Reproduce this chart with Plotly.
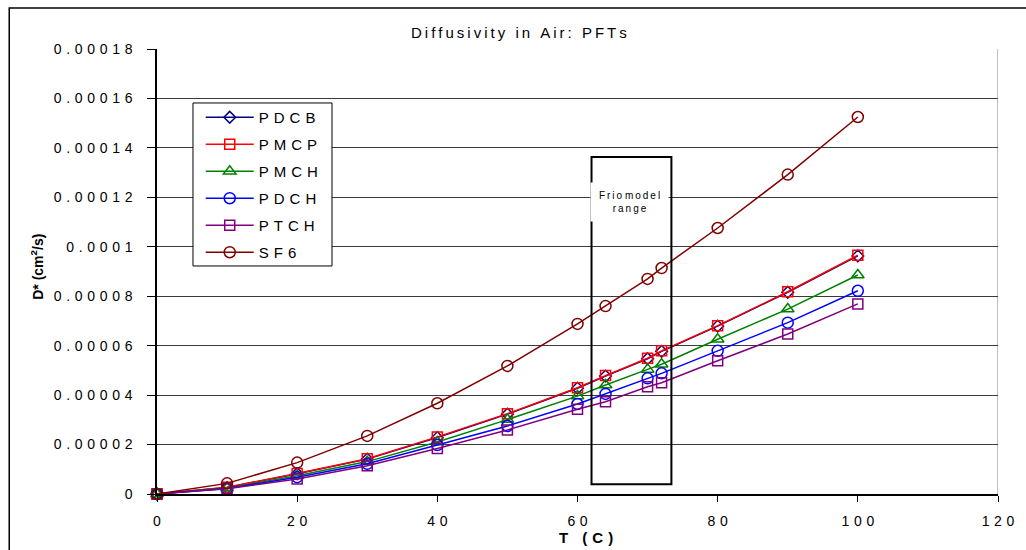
import plotly.graph_objects as go

# Temperature (C) at which the diffusivities are evaluated
temps = [0, 10, 20, 30, 40, 50, 60, 64, 70, 72, 80, 90, 100]

# Diffusion coefficients in air, cm^2/s
pdcb = [0, 2.6e-6, 8.2e-6, 1.41e-5, 2.28e-5, 3.23e-5, 4.28e-5, 4.77e-5, 5.47e-5, 5.77e-5, 6.79e-5, 8.16e-5, 9.63e-5]
pmcp = [0, 2.7e-6, 8.3e-6, 1.43e-5, 2.31e-5, 3.25e-5, 4.30e-5, 4.79e-5, 5.49e-5, 5.79e-5, 6.81e-5, 8.18e-5, 9.66e-5]
pmch = [0, 2.4e-6, 7.4e-6, 1.31e-5, 2.10e-5, 3.01e-5, 3.96e-5, 4.41e-5, 5.04e-5, 5.25e-5, 6.26e-5, 7.48e-5, 8.86e-5]
pdch = [0, 2.2e-6, 6.8e-6, 1.22e-5, 1.98e-5, 2.75e-5, 3.64e-5, 4.05e-5, 4.68e-5, 4.88e-5, 5.79e-5, 6.93e-5, 8.22e-5]
ptch = [0, 2.1e-6, 6.1e-6, 1.14e-5, 1.84e-5, 2.59e-5, 3.43e-5, 3.73e-5, 4.34e-5, 4.50e-5, 5.39e-5, 6.47e-5, 7.69e-5]
sf6 = [0, 4.3e-6, 1.27e-5, 2.35e-5, 3.67e-5, 5.18e-5, 6.88e-5, 7.60e-5, 8.70e-5, 9.14e-5, 1.076e-4, 1.292e-4, 1.525e-4]

series_names = ["PDCB", "PMCP", "PMCH", "PDCH", "PTCH", "SF6"]
series_values = [pdcb, pmcp, pmch, pdch, ptch, sf6]
series_colors = ["#000080", "#FF0000", "#008000", "#0000FF", "#800080", "#800000"]
series_symbols = ["diamond-open", "square-open", "triangle-up-open", "circle-open", "square-open", "circle-open"]
series_sizes = [9, 10, 11, 11, 10, 11]

y_ticks = [0, 2e-5, 4e-5, 6e-5, 8e-5, 1e-4, 1.2e-4, 1.4e-4, 1.6e-4, 1.8e-4]
y_tick_labels = ["0", "0.00002", "0.00004", "0.00006", "0.00008", "0.0001",
                 "0.00012", "0.00014", "0.00016", "0.00018"]
x_ticks = [0, 20, 40, 60, 80, 100, 120]
x_tick_labels = ["0", "20", "40", "60", "80", "100", "120"]

# Frio model temperature window and label
frio_range = [62.0, 73.4]

FONT = "Liberation Sans, Arial, sans-serif"
WIDE = "\u2004"   # three-per-em space used as letter spacing
THIN = "\u2009"   # thin space used as letter spacing


def spaced(text, gap):
    return gap.join(text)


fig = go.Figure()

for i, (name, vals, col, sym, sz) in enumerate(
        zip(series_names, series_values, series_colors, series_symbols, series_sizes)):
    fig.add_trace(go.Scatter(
        x=temps, y=vals, mode="lines+markers",
        name=spaced(name, WIDE), legendgroup=f"g{i}",
        line=dict(color=col, width=1.5),
        marker=dict(symbol=sym, size=sz, color=col, line=dict(color=col, width=1.5)),
        cliponaxis=False,
    ))

shapes = [
    # outer chart frame
    dict(type="rect", xref="paper", yref="paper", x0=-0.1757, x1=1.05, y0=-0.2, y1=1.0921,
         line=dict(color="black", width=1.5), fillcolor="rgba(0,0,0,0)", layer="below"),
    # right edge of the plot area
    dict(type="line", xref="x", yref="y", x0=120, x1=120, y0=0, y1=1.8e-4,
         line=dict(color="#808080", width=1), layer="below"),
    # Frio model range box
    dict(type="rect", xref="x", yref="y", x0=frio_range[0], x1=frio_range[1],
         y0=3.9e-6, y1=1.363e-4, line=dict(color="black", width=2),
         fillcolor="rgba(0,0,0,0)", layer="above"),
    # legend frame
    dict(type="rect", xref="paper", yref="paper", x0=0.0428, x1=0.2081, y0=0.5124, y1=0.8787,
         line=dict(color="black", width=1), fillcolor="white", layer="above"),
]

frio_text = spaced("Frio", THIN) + "\u00a0" + spaced("model", THIN) \
    + "<br>" + spaced("range", THIN)

annotations = [
    dict(text=spaced("Diffusivity in Air: PFTs", THIN), xref="paper", yref="paper",
         x=0.431, y=1.036, xanchor="center", yanchor="middle", showarrow=False,
         font=dict(family=FONT, size=15, color="black")),
    dict(text="<b>" + spaced("T (C)", WIDE) + "</b>", xref="paper", yref="paper",
         x=0.51, y=-0.097, xanchor="center", yanchor="middle", showarrow=False,
         font=dict(family=FONT, size=15, color="black")),
    dict(text="<b>D* (cm<sup>2</sup>/s)</b>", xref="paper", yref="paper",
         x=-0.143, y=0.51, xanchor="center", yanchor="middle", textangle=-90,
         showarrow=False, font=dict(family=FONT, size=14, color="black")),
    dict(text=frio_text,
         xref="x", yref="y", x=67.35, y=1.18e-4, xanchor="center", yanchor="middle",
         showarrow=False, bgcolor="white", width=75, height=36,
         font=dict(family=FONT, size=10, color="black")),
]

fig.update_layout(
    width=1026, height=550,
    margin=dict(l=157, r=28, t=49, b=56),
    paper_bgcolor="white", plot_bgcolor="white",
    font=dict(family=FONT, size=14, color="black"),
    showlegend=True,
    legend=dict(x=0.052, y=0.8832, xanchor="left", yanchor="top",
                bgcolor="rgba(0,0,0,0)", borderwidth=0,
                font=dict(family=FONT, size=15, color="black"),
                tracegroupgap=4.5, itemwidth=48),
    shapes=shapes,
    annotations=annotations,
    xaxis=dict(range=[0, 120], tickvals=x_ticks,
               ticktext=[spaced(t, WIDE) for t in x_tick_labels],
               showgrid=False, zeroline=False, showline=True, linecolor="black", linewidth=1.5,
               ticks="outside", ticklen=6, tickcolor="black", ticklabelstandoff=7,
               tickfont=dict(family=FONT, size=14, color="black")),
    yaxis=dict(range=[0, 1.8e-4], tickvals=y_ticks,
               ticktext=[spaced(t, WIDE) for t in y_tick_labels],
               showgrid=True, gridcolor="#3a3a3a", gridwidth=1,
               zeroline=False, showline=True, linecolor="black", linewidth=1.5,
               ticks="outside", ticklen=8, tickcolor="black", ticklabelstandoff=12,
               tickfont=dict(family=FONT, size=14, color="black")),
)

fig.write_html("out.html")
